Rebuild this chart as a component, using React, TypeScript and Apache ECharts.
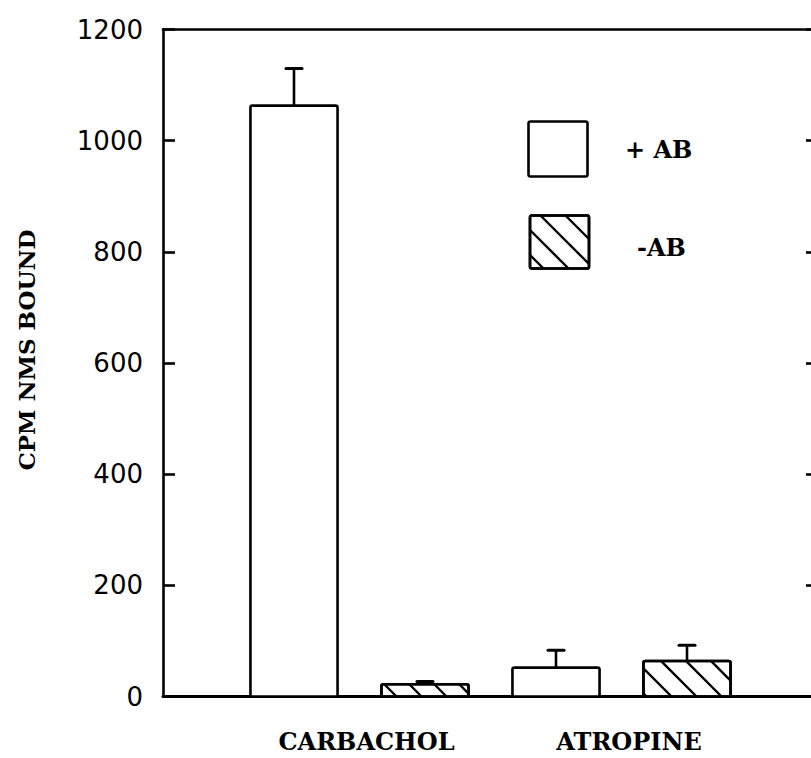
import React, { useEffect, useRef } from 'react';
import * as echarts from 'echarts';

const categories = ['CARBACHOL', 'ATROPINE'];
const seriesNames = ['+ AB', '-AB'];
const plusAB = [1063, 52];
const plusABErrTop = [1130, 83];
const minusAB = [22, 64];
const minusABErrTop = [27, 92];
const yTickValues = [0, 200, 400, 600, 800, 1000, 1200];

const HATCH_SPACING = 25;

function hatchSegments(x0: number, y0: number, x1: number, y1: number) {
  const segs: number[][] = [];
  const w = x1 - x0;
  const h = y1 - y0;
  const base = ((x0 - y0) % HATCH_SPACING + HATCH_SPACING) % HATCH_SPACING;
  let t = -base - Math.ceil(h / HATCH_SPACING + 1) * HATCH_SPACING;
  for (; t < w; t += HATCH_SPACING) {
    let sx = x0 + t, sy = y0;
    if (sx < x0) { sx = x0; sy = y0 - t; }
    let ex = x0 + t + h, ey = y1;
    if (ex > x1) { ex = x1; ey = y0 + w - t; }
    if (sy < y1 - 0.5 && sx < x1 - 0.5 && ex > sx + 0.5) segs.push([sx, sy, ex, ey]);
  }
  return segs;
}

// rows: [xPos, value, errTop, hatched]
const barRows: number[][] = [];
categories.forEach((_, g) => {
  barRows.push([1 + 2 * g, plusAB[g], plusABErrTop[g], 0]);
  barRows.push([2 + 2 * g, minusAB[g], minusABErrTop[g], 1]);
});

export default function App() {
  const ref = useRef<HTMLDivElement>(null);
  useEffect(() => {
    if (!ref.current) return;
    const chart = echarts.init(ref.current, null, { renderer: 'svg' });
    const lineW = 2.6;

    const serifBold = { fontFamily: '"DejaVu Serif", serif', fontWeight: 'bold', fontSize: 24 };

    const legendBoxes = [
      { x: 528.5, y: 121.5, w: 59, h: 55, hatched: false, tx: 625, ty: 149, label: seriesNames[0] },
      { x: 530, y: 215.5, w: 59, h: 53, hatched: true, tx: 637, ty: 247, label: seriesNames[1] },
    ];
    const graphic: any[] = [];
    legendBoxes.forEach((b) => {
      graphic.push({
        type: 'rect',
        shape: { x: b.x, y: b.y, width: b.w, height: b.h, r: 2 },
        style: { fill: '#fff', stroke: '#000', lineWidth: lineW },
      });
      if (b.hatched) {
        hatchSegments(b.x, b.y, b.x + b.w, b.y + b.h).forEach((s) => {
          graphic.push({
            type: 'line',
            shape: { x1: s[0], y1: s[1], x2: s[2], y2: s[3] },
            style: { stroke: '#000', lineWidth: 2.4 },
          });
        });
        graphic.push({
          type: 'rect',
          shape: { x: b.x, y: b.y, width: b.w, height: b.h, r: 2 },
          style: { fill: 'none', stroke: '#000', lineWidth: lineW },
        });
      }
      graphic.push({
        type: 'text',
        x: b.tx,
        y: b.ty,
        style: {
          text: b.label,
          ...serifBold,
          fill: '#000',
          align: 'left',
          verticalAlign: 'middle',
        },
      });
    });
    const catLabelPos = [366.5, 629];
    categories.forEach((c, i) => {
      graphic.push({
        type: 'text',
        x: catLabelPos[i],
        y: 741,
        style: {
          text: c,
          ...serifBold,
          fill: '#000',
          align: 'center',
          verticalAlign: 'middle',
        },
      });
    });
    graphic.push({
      type: 'text',
      x: 26,
      y: 350,
      rotation: Math.PI / 2,
      style: {
        text: 'CPM NMS BOUND',
        fontFamily: '"DejaVu Serif", serif',
        fontWeight: 'bold',
        fontSize: 23,
        fill: '#000',
        align: 'center',
        verticalAlign: 'middle',
      },
    });

    const axisLine = { show: true, onZero: false, lineStyle: { color: '#000', width: lineW } };

    chart.setOption({
      animation: false,
      backgroundColor: '#fff',
      grid: { left: 163, right: 12, top: 29.5, bottom: 61.5 },
      xAxis: [
        {
          type: 'value', min: 0, max: 5, position: 'bottom',
          axisLine: { show: true, onZero: false, lineStyle: { color: '#000', width: 3 } },
          axisTick: { show: false }, axisLabel: { show: false }, splitLine: { show: false },
        },
        {
          type: 'value', min: 0, max: 5, position: 'top',
          axisLine, axisTick: { show: false }, axisLabel: { show: false }, splitLine: { show: false },
        },
      ],
      yAxis: [
        {
          type: 'value', min: yTickValues[0], max: yTickValues[yTickValues.length - 1], interval: 200,
          position: 'left',
          axisLine,
          axisTick: { show: true, inside: true, length: 12, lineStyle: { color: '#000', width: lineW } },
          axisLabel: {
            show: true, margin: 20, color: '#000', fontSize: 26, fontFamily: 'DejaVu Sans',
            formatter: (v: number) => String(v),
          },
          splitLine: { show: false },
        },
        {
          type: 'value', min: yTickValues[0], max: yTickValues[yTickValues.length - 1], interval: 200,
          position: 'right',
          axisLine,
          axisTick: { show: true, inside: true, length: 12, lineStyle: { color: '#000', width: lineW } },
          axisLabel: { show: false },
          splitLine: { show: false },
        },
      ],
      graphic,
      series: [
        {
          type: 'custom',
          xAxisIndex: 0,
          yAxisIndex: 0,
          data: barRows,
          clip: false,
          renderItem: (params: any, api: any) => {
            const xv = api.value(0);
            const v = api.value(1);
            const e = api.value(2);
            const hatched = api.value(3) === 1;
            const [cx, yTop] = api.coord([xv, v]);
            const [, yBase] = api.coord([xv, 0]);
            const [, yErr] = api.coord([xv, e]);
            const bw = api.size([1, 0])[0] * 0.665;
            const x0 = cx - bw / 2;
            const x1 = cx + bw / 2;
            const children: any[] = [];
            children.push({
              type: 'line',
              shape: { x1: cx, y1: yTop, x2: cx, y2: yErr },
              style: { stroke: '#000', lineWidth: 2.6 },
            });
            children.push({
              type: 'line',
              shape: { x1: cx - 8, y1: yErr, x2: cx + 8, y2: yErr },
              style: { stroke: '#000', lineWidth: 3, lineCap: 'round' },
            });
            children.push({
              type: 'rect',
              shape: { x: x0, y: yTop, width: bw, height: yBase - yTop, r: [2, 2, 0, 0] },
              style: { fill: '#fff', stroke: '#000', lineWidth: lineW },
            });
            if (hatched) {
              hatchSegments(x0, yTop, x1, yBase).forEach((s) => {
                children.push({
                  type: 'line',
                  shape: { x1: s[0], y1: s[1], x2: s[2], y2: s[3] },
                  style: { stroke: '#000', lineWidth: 2.4 },
                });
              });
              children.push({
                type: 'rect',
                shape: { x: x0, y: yTop, width: bw, height: yBase - yTop, r: [2, 2, 0, 0] },
                style: { fill: 'none', stroke: '#000', lineWidth: lineW },
              });
            }
            return { type: 'group', children };
          },
        },
      ],
    });
    return () => chart.dispose();
  }, []);

  return (
    <div style={{ position: 'fixed', left: 0, top: 0, width: 811, height: 758, overflow: 'hidden', background: '#fff' }}>
      <div ref={ref} style={{ width: 830, height: 758 }} />
    </div>
  );
}
